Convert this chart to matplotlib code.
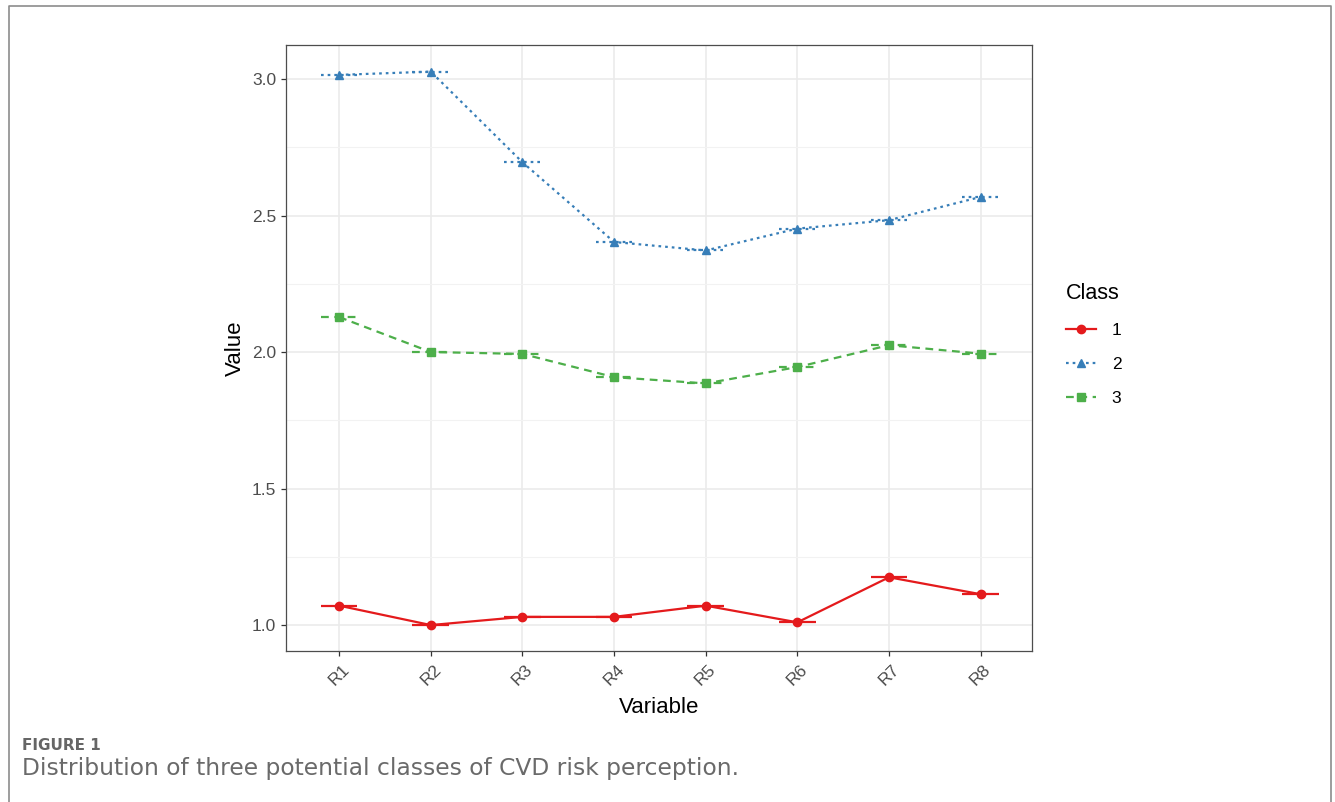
import matplotlib
matplotlib.use("Agg")
import matplotlib.pyplot as plt
from matplotlib.lines import Line2D
from matplotlib.ticker import MultipleLocator
import numpy as np

plt.rcParams['font.family'] = ['Liberation Sans', 'DejaVu Sans']

# data
variables = ['R1', 'R2', 'R3', 'R4', 'R5', 'R6', 'R7', 'R8']
class_names = ['1', '2', '3']
class1 = [1.071, 1.000, 1.030, 1.030, 1.071, 1.010, 1.175, 1.113]
class2 = [3.015, 3.027, 2.695, 2.403, 2.372, 2.452, 2.483, 2.568]
class3 = [2.128, 2.000, 1.993, 1.908, 1.885, 1.945, 2.025, 1.994]

series = [class1, class2, class3]
colors = ['#E41A1C', '#377EB8', '#4DAF4A']
styles = ['-', (0, (1.2, 1.8)), (0, (3.5, 2.5))]
markers = ['o', '^', 's']

fig = plt.figure(figsize=(13.35, 8.02), dpi=100)
ax = fig.add_axes([286 / 1335, 151 / 802, 746 / 1335, 606 / 802])

x = np.arange(1, len(variables) + 1)
for vals, c, ls, m in zip(series, colors, styles, markers):
    ax.plot(x, vals, color=c, linestyle=ls, lw=1.6, marker=m, ms=6,
            zorder=3)
    # flat error bars (ggplot geom_errorbar, width 0.4)
    ax.hlines(vals, x - 0.2, x + 0.2, colors=c, linestyles=ls, lw=1.6,
              zorder=3)

ax.set_xlim(0.42, 8.56)
ax.set_ylim(0.905, 3.1245)
ax.set_xticks(x)
ax.set_xticklabels(variables, rotation=45, ha='center', va='top')
ax.yaxis.set_minor_locator(MultipleLocator(0.25))
ax.set_yticks([1.0, 1.5, 2.0, 2.5, 3.0])
ax.set_yticklabels(['1.0', '1.5', '2.0', '2.5', '3.0'])

ax.grid(True, which='major', color='#EBEBEB', lw=1.2, zorder=0)
ax.grid(True, which='minor', axis='y', color='#F2F2F2', lw=0.8, zorder=0)
ax.set_axisbelow(True)
for s in ax.spines.values():
    s.set_color('#4D4D4D')
    s.set_linewidth(0.9)
ax.tick_params(axis='both', which='major', colors='#333333', length=3.5,
               width=0.9, labelsize=12.5, labelcolor='#4D4D4D')
ax.tick_params(axis='y', which='minor', length=0)
ax.tick_params(axis='x', pad=4)

ax.set_xlabel('Variable', fontsize=16, labelpad=7)
ax.set_ylabel('Value', fontsize=16, labelpad=4)

handles = [Line2D([0], [0], color=c, linestyle=ls, lw=1.6, marker=m, ms=6)
           for c, ls, m in zip(colors, styles, markers)]
leg = fig.legend(handles, class_names, title='Class', loc='upper left',
                 bbox_to_anchor=(1050 / 1335, 1 - 267 / 802), frameon=False,
                 fontsize=12.5, title_fontsize=15.5, handlelength=1.75,
                 labelspacing=1.1, handletextpad=0.9)
leg._legend_box.align = 'left'

# caption and page frame
fig.text(22 / 1335, 1 - 745 / 802, 'FIGURE 1', fontsize=11,
         color='#666666', family=['DejaVu Sans'],
         weight='bold', va='center')
fig.text(22 / 1335, 1 - 769 / 802,
         'Distribution of three potential classes of CVD risk perception.',
         fontsize=16.8, color='#6A6A6A', family=['DejaVu Sans'],
         va='center')
fig.add_artist(Line2D([9 / 1335, 9 / 1335, 1331 / 1335, 1331 / 1335],
                      [0, 1 - 6 / 802, 1 - 6 / 802, 0],
                      transform=fig.transFigure, color='#8C8C8C', lw=1.2))

fig.savefig('out.png', dpi=100)
